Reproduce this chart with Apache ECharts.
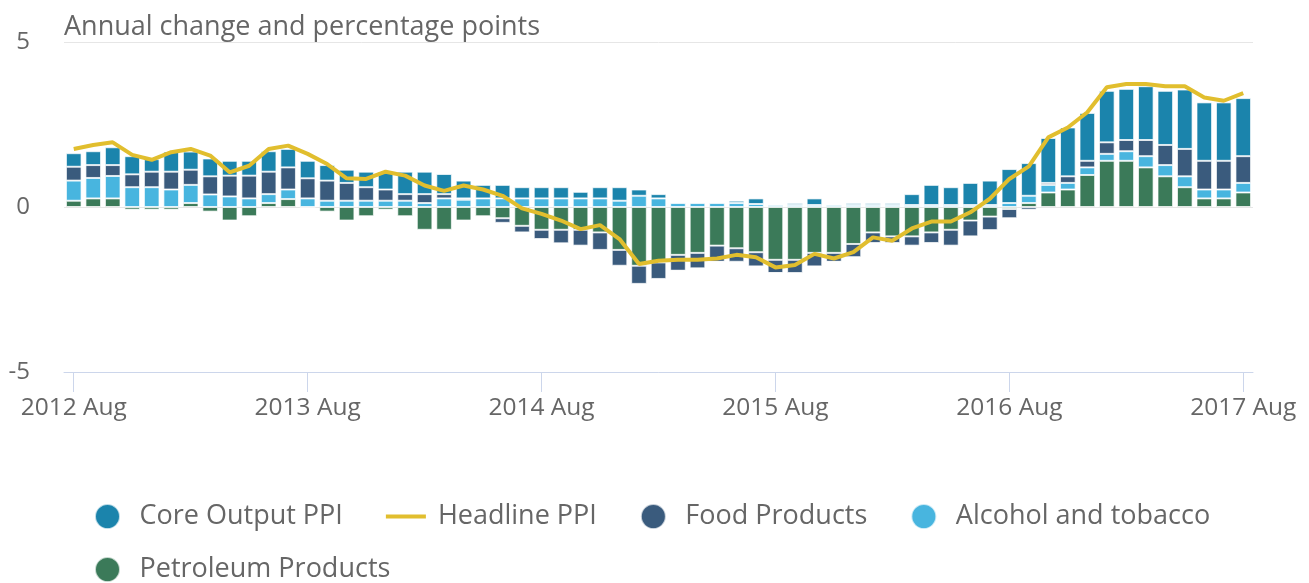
<!DOCTYPE html>
<html>
<head>
<meta charset="utf-8">
<script src="https://cdn.jsdelivr.net/npm/echarts@6/dist/echarts.min.js"></script>
<style>
html,body{margin:0;padding:0;background:#fff;}
#chart{width:1309px;height:583px;}
</style>
</head>
<body>
<div id="chart"></div>
<script>
var categories = [
"2012 Aug","2012 Sep","2012 Oct","2012 Nov","2012 Dec","2013 Jan","2013 Feb","2013 Mar","2013 Apr","2013 May","2013 Jun","2013 Jul",
"2013 Aug","2013 Sep","2013 Oct","2013 Nov","2013 Dec","2014 Jan","2014 Feb","2014 Mar","2014 Apr","2014 May","2014 Jun","2014 Jul",
"2014 Aug","2014 Sep","2014 Oct","2014 Nov","2014 Dec","2015 Jan","2015 Feb","2015 Mar","2015 Apr","2015 May","2015 Jun","2015 Jul",
"2015 Aug","2015 Sep","2015 Oct","2015 Nov","2015 Dec","2016 Jan","2016 Feb","2016 Mar","2016 Apr","2016 May","2016 Jun","2016 Jul",
"2016 Aug","2016 Sep","2016 Oct","2016 Nov","2016 Dec","2017 Jan","2017 Feb","2017 Mar","2017 Apr","2017 May","2017 Jun","2017 Jul",
"2017 Aug"
];
var coreOutput = [
0.41,0.42,0.54,0.55,0.38,0.61,0.55,0.54,0.45,0.45,0.62,0.56,
0.53,0.47,0.40,0.47,0.54,0.68,0.68,0.61,0.54,0.41,0.41,0.34,
0.34,0.34,0.20,0.34,0.41,0.19,0.13,0.00,0.00,0.00,0.07,0.17,
0.00,0.06,0.20,0.00,0.06,0.06,0.06,0.33,0.61,0.54,0.67,0.74,
1.03,0.99,1.36,1.48,1.45,1.56,1.55,1.63,1.64,1.80,1.77,1.77,
1.76
];
var foodProducts = [
0.42,0.39,0.33,0.39,0.47,0.54,0.46,0.55,0.63,0.69,0.68,0.67,
0.61,0.61,0.54,0.41,0.34,0.20,0.27,0.13,0.04,0.00,-0.14,-0.20,
-0.28,-0.41,-0.48,-0.53,-0.48,-0.55,-0.50,-0.48,-0.47,-0.49,-0.41,-0.43,
-0.40,-0.40,-0.41,-0.27,-0.40,-0.32,-0.20,-0.28,-0.32,-0.48,-0.48,-0.41,
-0.28,-0.08,0.06,0.20,0.20,0.35,0.34,0.49,0.61,0.83,0.87,0.87,
0.81
];
var alcoholTobacco = [
0.61,0.62,0.68,0.60,0.60,0.53,0.55,0.38,0.32,0.26,0.27,0.29,
0.26,0.19,0.19,0.19,0.19,0.19,0.12,0.26,0.22,0.26,0.26,0.26,
0.26,0.26,0.26,0.26,0.19,0.34,0.26,0.12,0.12,0.12,0.12,0.09,
0.06,0.06,0.06,0.06,0.06,0.06,0.06,0.06,0.06,0.06,0.06,0.06,
0.12,0.22,0.23,0.20,0.23,0.21,0.29,0.34,0.34,0.33,0.27,0.27,
0.29
];
var petroleum = [
0.19,0.26,0.26,-0.08,-0.08,-0.08,0.12,-0.14,-0.41,-0.28,0.12,0.24,
0.00,-0.14,-0.41,-0.28,-0.08,-0.28,-0.69,-0.69,-0.41,-0.28,-0.34,-0.57,
-0.69,-0.69,-0.69,-0.77,-1.30,-1.78,-1.68,-1.45,-1.39,-1.17,-1.25,-1.37,
-1.60,-1.60,-1.39,-1.39,-1.12,-0.77,-0.89,-0.89,-0.77,-0.69,-0.41,-0.29,
-0.06,0.12,0.44,0.53,0.97,1.40,1.40,1.20,0.93,0.60,0.26,0.26,
0.44
];
var headline = [
1.76,1.88,1.96,1.58,1.43,1.66,1.76,1.56,1.05,1.25,1.76,1.86,
1.61,1.30,0.87,0.85,1.07,0.95,0.65,0.49,0.65,0.53,0.34,-0.04,
-0.21,-0.41,-0.67,-0.55,-0.97,-1.73,-1.63,-1.60,-1.60,-1.56,-1.45,-1.52,
-1.83,-1.76,-1.42,-1.56,-1.37,-0.92,-1.02,-0.65,-0.44,-0.44,-0.16,0.25,
0.85,1.23,2.11,2.41,2.87,3.63,3.73,3.73,3.66,3.66,3.32,3.22,
3.45
];
var yTicks = [-5, 0, 5];

var FONT = '"Open Sans", "Noto Sans", sans-serif';
var TXT = '#666666';
var chart = echarts.init(document.getElementById('chart'), null, {renderer: 'canvas'});

var barStyle = function(color){
  return {color: color, borderColor: 'rgba(255,255,255,0.7)', borderWidth: 1};
};

var legendCommon = {
  orient: 'horizontal',
  itemWidth: 40,
  itemHeight: 25,
  itemGap: 43,
  textStyle: {fontFamily: FONT, fontSize: 27, color: TXT, padding: [0, 0, 0, 7]}
};

var option = {
  animation: false,
  backgroundColor: '#ffffff',
  title: {
    text: 'Annual change and percentage points',
    left: 59,
    top: 9,
    textStyle: {fontFamily: FONT, fontSize: 27, fontWeight: 'normal', color: TXT}
  },
  legend: [
    Object.assign({}, legendCommon, {
      left: 89, top: 498,
      data: [
        {name: 'Core Output PPI', icon: 'circle'},
        {name: 'Headline PPI', icon: 'path://M0,0 L40,0 L40,4 L0,4 Z'},
        {name: 'Food Products', icon: 'circle'},
        {name: 'Alcohol and tobacco', icon: 'circle'}
      ]
    }),
    Object.assign({}, legendCommon, {
      left: 89, top: 551,
      data: [{name: 'Petroleum Products', icon: 'circle'}]
    })
  ],
  grid: {left: 64, right: 56, top: 42, bottom: 211, containLabel: false},
  xAxis: {
    type: 'category',
    data: categories,
    boundaryGap: true,
    axisLine: {show: true, onZero: false, lineStyle: {color: '#ccd6eb', width: 1}},
    axisTick: {show: true, alignWithLabel: true, interval: 11, length: 20, lineStyle: {color: '#ccd6eb'}},
    axisLabel: {interval: 11, margin: 24, fontFamily: FONT, fontSize: 24.5, color: TXT},
    splitLine: {show: false}
  },
  yAxis: {
    type: 'value',
    min: yTicks[0],
    max: yTicks[yTicks.length - 1],
    interval: 5,
    axisLine: {show: false},
    axisTick: {show: false},
    axisLabel: {margin: 34, fontFamily: FONT, fontSize: 24, color: TXT},
    splitLine: {show: true, lineStyle: {color: '#e6e6e6', width: 1}}
  },
  series: [
    {name: 'Petroleum Products', type: 'bar', stack: 'ppi', data: petroleum, barCategoryGap: '20%', itemStyle: barStyle('#3b7a59')},
    {name: 'Alcohol and tobacco', type: 'bar', stack: 'ppi', data: alcoholTobacco, itemStyle: barStyle('#48b5df')},
    {name: 'Food Products', type: 'bar', stack: 'ppi', data: foodProducts, itemStyle: barStyle('#3a5b7d')},
    {name: 'Core Output PPI', type: 'bar', stack: 'ppi', data: coreOutput, itemStyle: barStyle('#1b84ac')},
    {name: 'Headline PPI', type: 'line', data: headline, symbol: 'none', z: 10,
      lineStyle: {color: '#e1be2e', width: 4}, itemStyle: {color: '#e1be2e'}}
  ]
};
chart.setOption(option);
</script>
</body>
</html>
